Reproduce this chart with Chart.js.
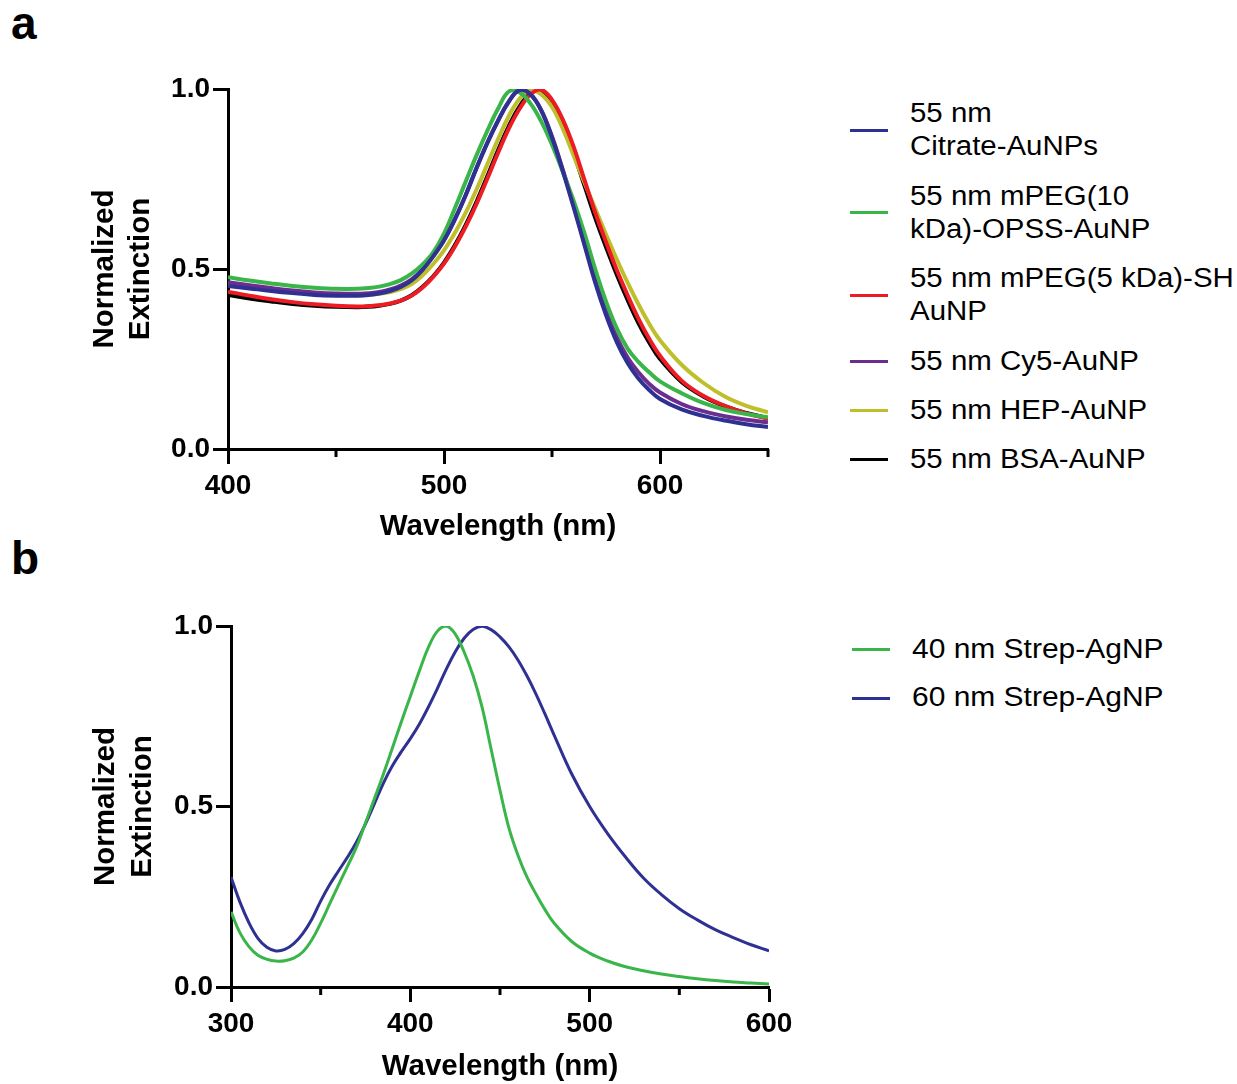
<!DOCTYPE html>
<html>
<head>
<meta charset="utf-8">
<title>Normalized extinction spectra</title>
<script src="https://cdn.jsdelivr.net/npm/chart.js@4.4.1/dist/chart.umd.min.js"></script>
<style>
    body {
        margin: 0;
        width: 1237px;
        height: 1084px;
        position: relative;
        overflow: hidden;
        background: #fff;
        font-family: "Liberation Sans", Arial, sans-serif;
        color: #000;
    }
    canvas { position: absolute; left: 0; }
    #chartA { top: 0; }
    #chartB { top: 540px; }
    .panel-label {
        position: absolute;
        left: 11px;
        font-weight: bold;
        font-size: 46px;
        line-height: 46px;
    }
    .legend {
        position: absolute;
        display: flex;
        flex-direction: column;
        gap: 15.7px;
        font-size: 27px;
        line-height: 33.4px;
    }
    .legend .item { display: flex; align-items: center; }
    .legend .swatch { width: 38px; height: 3px; margin-right: 22px; flex: none; }
    .legend .text { white-space: pre-line; display: inline-block; transform-origin: left center; }
</style>
</head>
<body>
<div class="panel-label" style="top: 0px;">a</div>
<div class="panel-label" style="top: 535px;">b</div>
<canvas id="chartA" width="800" height="560"></canvas>
<canvas id="chartB" width="800" height="548"></canvas>
<div class="legend" id="legendA" style="left: 850px; top: 97px;"></div>
<div class="legend" id="legendB" style="left: 852px; top: 633px; gap: 14.9px;"></div>

<script>
// ---- Panel a: 55 nm AuNPs ----
const wavelengthsA = [400, 410, 420, 430, 440, 450, 460, 465, 470, 475, 480, 485, 490, 495, 500, 505, 510, 515, 520, 525, 530, 535, 540, 545, 550, 555, 560, 565, 570, 575, 580, 585, 590, 595, 600, 610, 620, 630, 640, 650];
const citrateAu = [0.453, 0.446, 0.439, 0.433, 0.428, 0.426, 0.426, 0.428, 0.432, 0.439, 0.450, 0.468, 0.497, 0.535, 0.580, 0.638, 0.705, 0.780, 0.850, 0.912, 0.965, 0.997, 0.985, 0.940, 0.865, 0.772, 0.672, 0.567, 0.462, 0.372, 0.297, 0.239, 0.196, 0.164, 0.139, 0.110, 0.092, 0.079, 0.069, 0.061];
const mpeg10Au = [0.477, 0.468, 0.460, 0.453, 0.448, 0.445, 0.445, 0.447, 0.451, 0.458, 0.469, 0.487, 0.512, 0.546, 0.598, 0.668, 0.742, 0.815, 0.883, 0.945, 0.993, 0.990, 0.960, 0.910, 0.845, 0.770, 0.690, 0.600, 0.500, 0.410, 0.335, 0.279, 0.242, 0.213, 0.188, 0.155, 0.128, 0.109, 0.097, 0.088];
const mpeg5Au = [0.437, 0.426, 0.416, 0.408, 0.402, 0.398, 0.396, 0.397, 0.399, 0.404, 0.412, 0.426, 0.448, 0.478, 0.515, 0.562, 0.617, 0.680, 0.750, 0.822, 0.890, 0.945, 0.985, 0.998, 0.970, 0.915, 0.840, 0.748, 0.657, 0.575, 0.497, 0.427, 0.362, 0.306, 0.259, 0.190, 0.148, 0.120, 0.099, 0.084];
const cy5Au = [0.463, 0.455, 0.447, 0.440, 0.435, 0.432, 0.431, 0.433, 0.436, 0.443, 0.454, 0.471, 0.499, 0.536, 0.580, 0.637, 0.704, 0.779, 0.849, 0.911, 0.965, 0.998, 0.986, 0.942, 0.868, 0.776, 0.677, 0.574, 0.471, 0.383, 0.310, 0.254, 0.213, 0.181, 0.157, 0.125, 0.105, 0.091, 0.081, 0.074];
const hepAu = [0.458, 0.450, 0.442, 0.436, 0.431, 0.428, 0.427, 0.428, 0.431, 0.436, 0.444, 0.458, 0.482, 0.514, 0.552, 0.600, 0.656, 0.720, 0.790, 0.860, 0.925, 0.973, 0.997, 0.985, 0.950, 0.890, 0.815, 0.740, 0.668, 0.596, 0.527, 0.462, 0.402, 0.348, 0.302, 0.234, 0.184, 0.146, 0.120, 0.102];
const bsaAu = [0.428, 0.418, 0.410, 0.403, 0.398, 0.395, 0.394, 0.395, 0.398, 0.403, 0.412, 0.427, 0.450, 0.480, 0.518, 0.566, 0.622, 0.686, 0.757, 0.830, 0.897, 0.952, 0.988, 0.996, 0.960, 0.900, 0.822, 0.732, 0.642, 0.561, 0.484, 0.414, 0.350, 0.296, 0.250, 0.186, 0.146, 0.119, 0.100, 0.086];

const labelsA = ['55 nm\nCitrate-AuNPs', '55 nm mPEG(10\nkDa)-OPSS-AuNP', '55 nm mPEG(5 kDa)-SH\nAuNP', '55 nm Cy5-AuNP', '55 nm HEP-AuNP', '55 nm BSA-AuNP'];
const colorsA = ['#2E3192', '#39B54A', '#ED1C24', '#6B2D90', '#BFBE2B', '#000000'];
const seriesA = [citrateAu, mpeg10Au, mpeg5Au, cy5Au, hepAu, bsaAu];
const xTicksA = [400, 500, 600];
const xMinorA = [450, 550, 650];

// ---- Panel b: Strep-AgNPs ----
const wavelengthsB = [300, 305, 310, 315, 320, 325, 330, 335, 340, 345, 350, 355, 360, 365, 370, 375, 380, 385, 390, 395, 400, 405, 410, 415, 420, 425, 430, 435, 440, 445, 450, 455, 460, 465, 470, 475, 480, 490, 500, 510, 520, 530, 540, 550, 560, 570, 580, 590, 600];
const strepAg40 = [0.208, 0.150, 0.112, 0.088, 0.077, 0.072, 0.073, 0.080, 0.097, 0.130, 0.177, 0.230, 0.283, 0.335, 0.388, 0.455, 0.522, 0.590, 0.662, 0.735, 0.805, 0.875, 0.940, 0.985, 1.000, 0.978, 0.928, 0.862, 0.775, 0.660, 0.545, 0.440, 0.365, 0.305, 0.258, 0.215, 0.178, 0.126, 0.094, 0.072, 0.056, 0.045, 0.036, 0.029, 0.023, 0.018, 0.014, 0.011, 0.008];
const strepAg60 = [0.305, 0.235, 0.178, 0.135, 0.110, 0.100, 0.104, 0.120, 0.148, 0.187, 0.238, 0.283, 0.322, 0.360, 0.402, 0.452, 0.508, 0.565, 0.613, 0.652, 0.688, 0.728, 0.775, 0.826, 0.880, 0.928, 0.966, 0.990, 0.999, 0.990, 0.970, 0.942, 0.906, 0.862, 0.812, 0.757, 0.700, 0.590, 0.500, 0.425, 0.360, 0.302, 0.256, 0.217, 0.186, 0.159, 0.137, 0.117, 0.100];

const labelsB = ['40 nm Strep-AgNP', '60 nm Strep-AgNP'];
const colorsB = ['#39B54A', '#2E3192'];
const seriesB = [strepAg40, strepAg60];
const xTicksB = [300, 400, 500, 600];
const xMinorB = [350, 450, 550];

const yTicks = [0, 0.5, 1.0];

Chart.defaults.font.family = '"Liberation Sans", Arial, sans-serif';
Chart.defaults.color = '#000';

const tickFont = { size: 28, weight: 'bold' };
const titleFont = { size: 29.5, weight: 'bold', lineHeight: 1.25 };

// ticks cortos (sin etiqueta) del eje x
const minorTicks = {
    id: 'minorTicks',
    afterDraw(chart, args, opts) {
        const { ctx, chartArea, scales } = chart;
        ctx.save();
        ctx.strokeStyle = '#000';
        ctx.lineWidth = 3;
        opts.values.forEach(v => {
            const px = scales.x.getPixelForValue(v);
            ctx.beginPath();
            ctx.moveTo(px, chartArea.bottom);
            ctx.lineTo(px, chartArea.bottom + opts.length);
            ctx.stroke();
        });
        ctx.restore();
    }
};

function buildChart(canvasId, opts) {
    const datasets = opts.series.map((values, i) => ({
        label: opts.labels[i],
        data: opts.wavelengths.map((w, j) => ({ x: w, y: values[j] })),
        borderColor: opts.colors[i],
        borderWidth: opts.lineWidth,
        pointRadius: 0,
        fill: false,
        tension: 0.4
    }));

    return new Chart(document.getElementById(canvasId), {
        type: 'line',
        data: { datasets },
        plugins: [minorTicks],
        options: {
            responsive: false,
            animation: false,
            devicePixelRatio: 1,
            events: [],
            layout: { padding: { top: opts.top, right: opts.right, bottom: 0, left: 0 } },
            plugins: {
                legend: { display: false },
                tooltip: { enabled: false },
                minorTicks: { values: opts.minor, length: 8 }
            },
            scales: {
                x: {
                    type: 'linear',
                    min: opts.xMin,
                    max: opts.xMax,
                    afterBuildTicks: s => { s.ticks = opts.xTicks.map(v => ({ value: v })); },
                    afterFit: s => { s.height = opts.xAxisHeight; },
                    border: { color: '#000', width: 3 },
                    grid: { drawOnChartArea: false, tickLength: 15, tickWidth: 3, tickColor: '#000' },
                    ticks: { font: tickFont, padding: 5, autoSkip: false, maxRotation: 0, callback: v => String(v) },
                    title: { display: true, text: 'Wavelength (nm)', font: titleFont, padding: { top: 0, bottom: opts.xTitlePad } }
                },
                y: {
                    min: 0,
                    max: 1,
                    afterBuildTicks: s => { s.ticks = yTicks.map(v => ({ value: v })); },
                    afterFit: s => { s.width = opts.yAxisWidth; },
                    border: { color: '#000', width: 3 },
                    grid: { drawOnChartArea: false, tickLength: 15, tickWidth: 3, tickColor: '#000' },
                    ticks: { font: tickFont, padding: 3, autoSkip: false, callback: v => v.toFixed(1) },
                    title: { display: true, text: ['Normalized', 'Extinction'], font: titleFont, padding: { top: opts.yTitlePad, bottom: 0 } }
                }
            }
        }
    });
}

function buildLegend(id, labels, colors, stretch) {
    const box = document.getElementById(id);
    labels.forEach((label, i) => {
        const item = document.createElement('div');
        item.className = 'item';
        const swatch = document.createElement('span');
        swatch.className = 'swatch';
        swatch.style.background = colors[i];
        const text = document.createElement('span');
        text.className = 'text';
        text.style.transform = `scaleX(${stretch})`;
        text.textContent = label;
        item.appendChild(swatch);
        item.appendChild(text);
        box.appendChild(item);
    });
}

buildChart('chartA', {
    wavelengths: wavelengthsA, series: seriesA, labels: labelsA, colors: colorsA,
    lineWidth: 4, xMin: 400, xMax: 650, xTicks: xTicksA, minor: xMinorA,
    top: 89, right: 32, xAxisHeight: 111, yAxisWidth: 228, xTitlePad: 14.6, yTitlePad: 86
});

buildChart('chartB', {
    wavelengths: wavelengthsB, series: seriesB, labels: labelsB, colors: colorsB,
    lineWidth: 3, xMin: 300, xMax: 600, xTicks: xTicksB, minor: xMinorB,
    top: 86, right: 31, xAxisHeight: 101, yAxisWidth: 231, xTitlePad: 2.6, yTitlePad: 87.6
});

buildLegend('legendA', labelsA, colorsA, 1.09);
buildLegend('legendB', labelsB, colorsB, 1.11);
</script>
</body>
</html>
